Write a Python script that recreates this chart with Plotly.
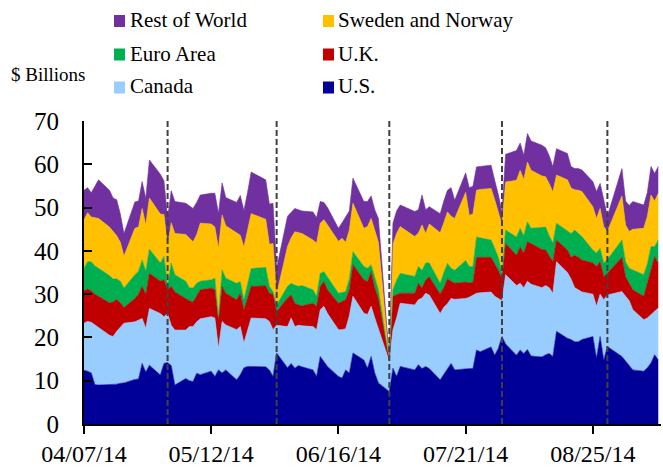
import plotly.graph_objects as go

# ---------------- data ($ billions, business days) ----------------
dates = [
    "2014-04-07", "2014-04-08", "2014-04-09", "2014-04-10", "2014-04-11", "2014-04-14", "2014-04-15",
    "2014-04-16", "2014-04-17", "2014-04-18", "2014-04-21", "2014-04-22", "2014-04-23", "2014-04-24",
    "2014-04-25", "2014-04-28", "2014-04-29", "2014-04-30",
    "2014-05-01", "2014-05-02", "2014-05-05", "2014-05-06", "2014-05-07", "2014-05-08", "2014-05-09",
    "2014-05-12", "2014-05-13", "2014-05-14", "2014-05-15", "2014-05-16", "2014-05-19", "2014-05-20",
    "2014-05-21", "2014-05-22", "2014-05-23", "2014-05-27", "2014-05-28", "2014-05-29", "2014-05-30",
    "2014-06-02", "2014-06-03", "2014-06-04", "2014-06-05", "2014-06-06", "2014-06-09", "2014-06-10",
    "2014-06-11", "2014-06-12", "2014-06-13", "2014-06-16", "2014-06-17", "2014-06-18", "2014-06-19",
    "2014-06-20", "2014-06-23", "2014-06-24", "2014-06-25", "2014-06-26", "2014-06-27", "2014-06-30",
    "2014-07-01", "2014-07-02", "2014-07-03", "2014-07-07", "2014-07-08", "2014-07-09", "2014-07-10",
    "2014-07-11", "2014-07-14", "2014-07-15", "2014-07-16", "2014-07-17", "2014-07-18", "2014-07-21",
    "2014-07-22", "2014-07-23", "2014-07-24", "2014-07-25", "2014-07-28", "2014-07-29", "2014-07-30",
    "2014-07-31",
    "2014-08-01", "2014-08-04", "2014-08-05", "2014-08-06", "2014-08-07", "2014-08-08", "2014-08-11",
    "2014-08-12", "2014-08-13", "2014-08-14", "2014-08-15", "2014-08-18", "2014-08-19", "2014-08-20",
    "2014-08-21", "2014-08-22", "2014-08-25", "2014-08-26", "2014-08-27", "2014-08-28", "2014-08-29",
    "2014-09-02", "2014-09-03", "2014-09-04", "2014-09-05", "2014-09-08", "2014-09-09", "2014-09-10",
    "2014-09-11", "2014-09-12",
]

us = [
    12.4, 12.2, 11.8, 9.1, 9.0, 9.1, 9.0, 9.2, 9.4, 9.5,
    10.3, 10.4, 14.0, 12.0, 13.6, 11.3, 14.0, 14.2, 13.5, 9.0,
    10.5, 10.0, 9.8, 11.7, 11.4, 12.2, 11.0, 12.5, 11.8, 12.5,
    10.2, 11.4, 13.0, 13.3, 13.3, 13.2, 12.5, 11.0, 16.4, 13.0,
    14.0, 12.9, 13.5, 13.2, 12.5, 11.0, 15.6, 14.5, 13.3, 11.0,
    10.6, 12.5, 11.8, 16.4, 14.8, 12.9, 15.6, 11.8, 9.5, 7.5,
    12.9, 11.0, 13.3, 12.5, 13.7, 12.8, 13.3, 12.8, 10.2, 11.5,
    12.8, 14.0, 12.5, 12.8, 12.8, 12.8, 17.1, 16.7, 17.8, 15.9,
    17.5, 20.2, 18.5, 15.9, 17.1, 16.3, 17.2, 15.7, 15.5, 16.0,
    16.3, 15.6, 21.4, 19.8, 19.5, 19.0, 19.0, 19.5, 20.2, 15.2,
    20.2, 14.8, 17.9, 15.6, 14.5, 13.6, 12.5, 12.2, 13.0, 14.1,
    16.0, 14.8,
]

canada = [
    10.9, 11.5, 11.7, 13.7, 13.3, 11.4, 11.2, 12.2, 12.9, 13.8,
    13.3, 13.6, 10.4, 10.1, 13.1, 14.2, 10.8, 11.3, 9.3, 12.7,
    11.2, 12.5, 12.7, 11.9, 12.9, 12.6, 13.5, 5.0, 11.9, 10.4,
    11.6, 11.1, 5.7, 8.3, 11.2, 11.1, 11.2, 10.8, 6.4, 9.5,
    10.5, 9.6, 9.3, 9.5, 10.0, 10.8, 10.8, 12.7, 12.2, 10.8,
    11.2, 9.5, 13.2, 13.1, 10.8, 12.4, 11.6, 12.7, 12.5, 7.0,
    8.9, 13.5, 14.6, 15.0, 15.0, 16.3, 16.9, 17.0, 15.3, 15.5,
    15.0, 15.0, 16.3, 16.2, 16.5, 17.0, 13.1, 13.6, 12.7, 13.6,
    11.5, 8.3, 16.0, 16.1, 15.4, 15.2, 15.8, 16.6, 16.0, 16.0,
    15.2, 14.6, 16.1, 15.2, 14.0, 12.5, 12.0, 11.0, 9.8, 12.0,
    9.8, 13.9, 11.9, 15.0, 15.0, 14.9, 13.9, 11.9, 11.5, 11.1,
    10.0, 12.0,
]

uk = [
    7.5, 7.5, 7.3, 7.2, 7.2, 7.5, 8.0, 7.4, 5.7, 3.6,
    5.4, 6.0, 7.4, 7.8, 8.1, 7.5, 8.5, 5.5, 9.0, 8.8,
    7.3, 6.0, 5.7, 5.9, 6.7, 6.6, 6.5, 6.6, 8.1, 7.3,
    6.9, 7.7, 7.7, 7.5, 7.3, 7.6, 6.5, 8.2, 3.2, 6.6,
    5.3, 5.4, 4.7, 4.6, 5.4, 5.4, 5.4, 5.7, 5.5, 6.1,
    6.5, 6.7, 6.0, 7.3, 7.7, 7.6, 8.0, 7.0, 7.0, 0.2,
    7.7, 5.3, 2.3, 2.7, 3.8, 2.3, 3.1, 4.2, 4.5, 4.5,
    5.7, 4.0, 3.7, 3.8, 3.3, 2.8, 8.3, 8.2, 8.0, 7.5,
    6.5, 5.0, 7.2, 7.0, 8.4, 8.0, 9.1, 9.4, 8.8, 8.2,
    7.5, 7.3, 5.0, 5.2, 5.0, 7.5, 7.5, 7.4, 7.2, 9.2,
    7.5, 5.4, 5.0, 7.9, 4.5, 4.0, 4.6, 5.4, 8.0, 10.3,
    12.7, 10.4,
]

euro = [
    5.2, 6.3, 6.7, 6.5, 6.5, 6.3, 5.3, 4.7, 5.0, 4.5,
    5.5, 5.3, 6.1, 5.4, 5.6, 4.2, 5.4, 0.8, 5.4, 4.0,
    4.0, 3.0, 3.2, 3.0, 2.0, 1.9, 2.7, 0.7, 3.8, 3.5,
    3.8, 2.7, 2.3, 3.2, 4.1, 4.3, 1.6, 0.6, 1.5, 2.7,
    2.7, 4.2, 4.3, 4.7, 3.1, 2.3, 3.0, 2.3, 3.0, 2.3,
    2.1, 1.9, 2.5, 3.0, 3.1, 3.1, 1.6, 2.5, 2.0, 0.1,
    1.5, 3.4, 4.6, 3.9, 3.9, 4.1, 3.9, 3.2, 2.5, 3.5,
    3.6, 3.0, 3.0, 5.0, 3.8, 3.8, 4.7, 4.5, 4.0, 3.6,
    3.0, 1.5, 3.1, 4.2, 4.3, 4.0, 4.6, 3.5, 5.2, 5.3,
    4.5, 4.3, 3.9, 4.3, 5.5, 5.8, 5.5, 5.4, 3.0, 3.1,
    3.1, 3.1, 3.2, 4.0, 3.5, 3.5, 4.6, 5.0, 4.5, 5.5,
    2.3, 5.3,
]

swe_nor = [
    11.2, 11.3, 10.3, 11.1, 11.5, 11.2, 11.1, 10.0, 9.0, 7.4,
    10.7, 10.2, 11.9, 10.7, 11.8, 11.3, 9.7, 9.2, 9.3, 9.5,
    10.8, 11.5, 10.7, 11.2, 13.4, 12.9, 11.8, 15.8, 12.7, 12.1,
    11.5, 10.7, 12.2, 12.4, 12.7, 11.1, 9.7, 11.1, 2.5, 9.2,
    10.5, 12.3, 12.4, 12.0, 11.5, 12.3, 11.6, 12.0, 12.0, 12.0,
    12.5, 11.4, 11.3, 11.2, 8.8, 9.6, 10.7, 10.8, 11.0, 0.1,
    10.5, 10.8, 10.8, 9.2, 7.7, 10.5, 6.8, 9.0, 11.7, 11.5,
    11.9, 12.0, 12.0, 15.7, 11.8, 12.1, 10.8, 11.2, 11.9, 11.2,
    10.5, 11.0, 11.1, 13.1, 13.4, 13.0, 13.8, 13.4, 11.8, 11.6,
    12.0, 11.8, 11.1, 11.9, 10.5, 9.3, 10.0, 10.4, 10.0, 8.0,
    9.2, 8.4, 6.5, 10.2, 8.5, 8.5, 9.4, 10.7, 11.0, 11.9,
    10.5, 10.8,
]

rest = [
    6.8, 5.8, 5.6, 7.4, 8.9, 8.5, 7.6, 8.3, 6.5, 5.2,
    6.1, 6.0, 6.2, 6.1, 8.8, 9.2, 7.8, 6.5, 7.4, 7.4,
    7.2, 7.4, 7.7, 7.5, 6.5, 7.1, 7.8, 8.1, 7.4, 6.5,
    7.2, 9.2, 8.4, 8.8, 9.6, 9.1, 9.3, 9.3, 6.0, 7.0,
    6.0, 5.4, 5.3, 5.2, 6.5, 5.9, 5.0, 4.0, 4.0, 3.0,
    3.6, 5.7, 4.4, 5.8, 6.2, 5.8, 5.2, 4.7, 5.5, 0.1,
    4.9, 5.2, 5.0, 5.8, 5.4, 6.9, 5.5, 4.0, 4.4, 5.0,
    5.0, 6.6, 4.2, 4.5, 6.4, 6.4, 5.4, 5.3, 5.4, 4.5,
    4.0, 3.0, 6.4, 6.9, 6.3, 5.6, 6.6, 6.8, 7.1, 6.7,
    6.5, 5.9, 6.1, 6.1, 5.0, 4.9, 5.0, 5.0, 5.8, 6.2,
    5.8, 6.2, 3.5, 6.3, 5.5, 6.0, 6.4, 5.4, 5.5, 6.6,
    6.4, 6.2,
]

month_ends = ["2014-04-30", "2014-05-30", "2014-06-30", "2014-07-31", "2014-08-29"]
tick_dates = ["2014-04-07", "2014-05-12", "2014-06-16", "2014-07-21", "2014-08-25"]
tick_labels = ["04/07/14", "05/12/14", "06/16/14", "07/21/14", "08/25/14"]
y_ticks = [0, 10, 20, 30, 40, 50, 60, 70]

# ---------------- styling ----------------
FONT = "Liberation Serif"
W, H = 663, 467
ML, MR, MT, MB = 84, 2, 121, 43
PW, PH = W - ML - MR, H - MT - MB

colors = {
    "U.S.": "#000099",
    "Canada": "#99CCFF",
    "U.K.": "#C00000",
    "Euro Area": "#00B050",
    "Sweden and Norway": "#FFC000",
    "Rest of World": "#7030A0",
}
stack = [("U.S.", us), ("Canada", canada), ("U.K.", uk), ("Euro Area", euro),
         ("Sweden and Norway", swe_nor), ("Rest of World", rest)]

fig = go.Figure()
for name, vals in stack:
    c = colors[name]
    fig.add_trace(go.Scatter(
        x=dates, y=vals, name=name, stackgroup="one", mode="lines",
        line=dict(width=0.6, color=c), fillcolor=c, showlegend=False,
    ))

shapes = []
for d in month_ends:
    shapes.append(dict(type="line", xref="x", yref="y", x0=d, x1=d, y0=0, y1=70,
                       line=dict(color="#404040", width=2, dash="6px,3px"), layer="above"))


def px2x(px):
    return (px - ML) / PW


def py2y(py):
    return (H - MB - py) / PH


annotations = []
legend_rows = [["Rest of World", "Sweden and Norway"], ["Euro Area", "U.K."], ["Canada", "U.S."]]
row_centers = [21, 54.5, 87.5]
col_square = [114, 323]
col_text = [128, 336]
for r, row in enumerate(legend_rows):
    cy = row_centers[r]
    for c, name in enumerate(row):
        shapes.append(dict(type="rect", xref="paper", yref="paper",
                           x0=px2x(col_square[c]), x1=px2x(col_square[c] + 11),
                           y0=py2y(cy + 6), y1=py2y(cy - 6),
                           fillcolor=colors[name], line=dict(width=0)))
        annotations.append(dict(xref="paper", yref="paper", x=px2x(col_text[c]), y=py2y(cy - 1),
                                text=name, showarrow=False, xanchor="left", yanchor="middle",
                                font=dict(family=FONT, size=21, color="black")))

annotations.append(dict(xref="paper", yref="paper", x=px2x(9), y=py2y(74), text="$ Billions",
                        showarrow=False, xanchor="left", yanchor="middle",
                        font=dict(family=FONT, size=19, color="black")))

fig.update_layout(
    width=W, height=H,
    margin=dict(l=ML, r=MR, t=MT, b=MB, pad=0),
    paper_bgcolor="white", plot_bgcolor="white",
    font=dict(family=FONT, color="black"),
    showlegend=False,
    shapes=shapes, annotations=annotations,
    xaxis=dict(
        type="date", range=["2014-04-07", "2014-09-12 18:00"],
        tickvals=tick_dates, ticktext=tick_labels,
        ticks="outside", ticklen=8, tickwidth=2, tickcolor="black",
        showline=True, linewidth=2, linecolor="black",
        showgrid=False, zeroline=False, automargin=False,
        tickfont=dict(family=FONT, size=24, color="black"),
        ticklabelstandoff=-1,
    ),
    yaxis=dict(
        range=[0, 70], tickvals=y_ticks,
        ticks="inside", ticklen=8, tickwidth=2, tickcolor="black",
        showline=True, linewidth=2, linecolor="black",
        showgrid=False, zeroline=False, automargin=False,
        tickfont=dict(family=FONT, size=25, color="black"),
        ticklabelstandoff=18,
    ),
)

fig.write_html(
    "out.html",
    config={"displayModeBar": False},
    post_script="document.body.style.margin='0';document.body.style.padding='0';",
)
